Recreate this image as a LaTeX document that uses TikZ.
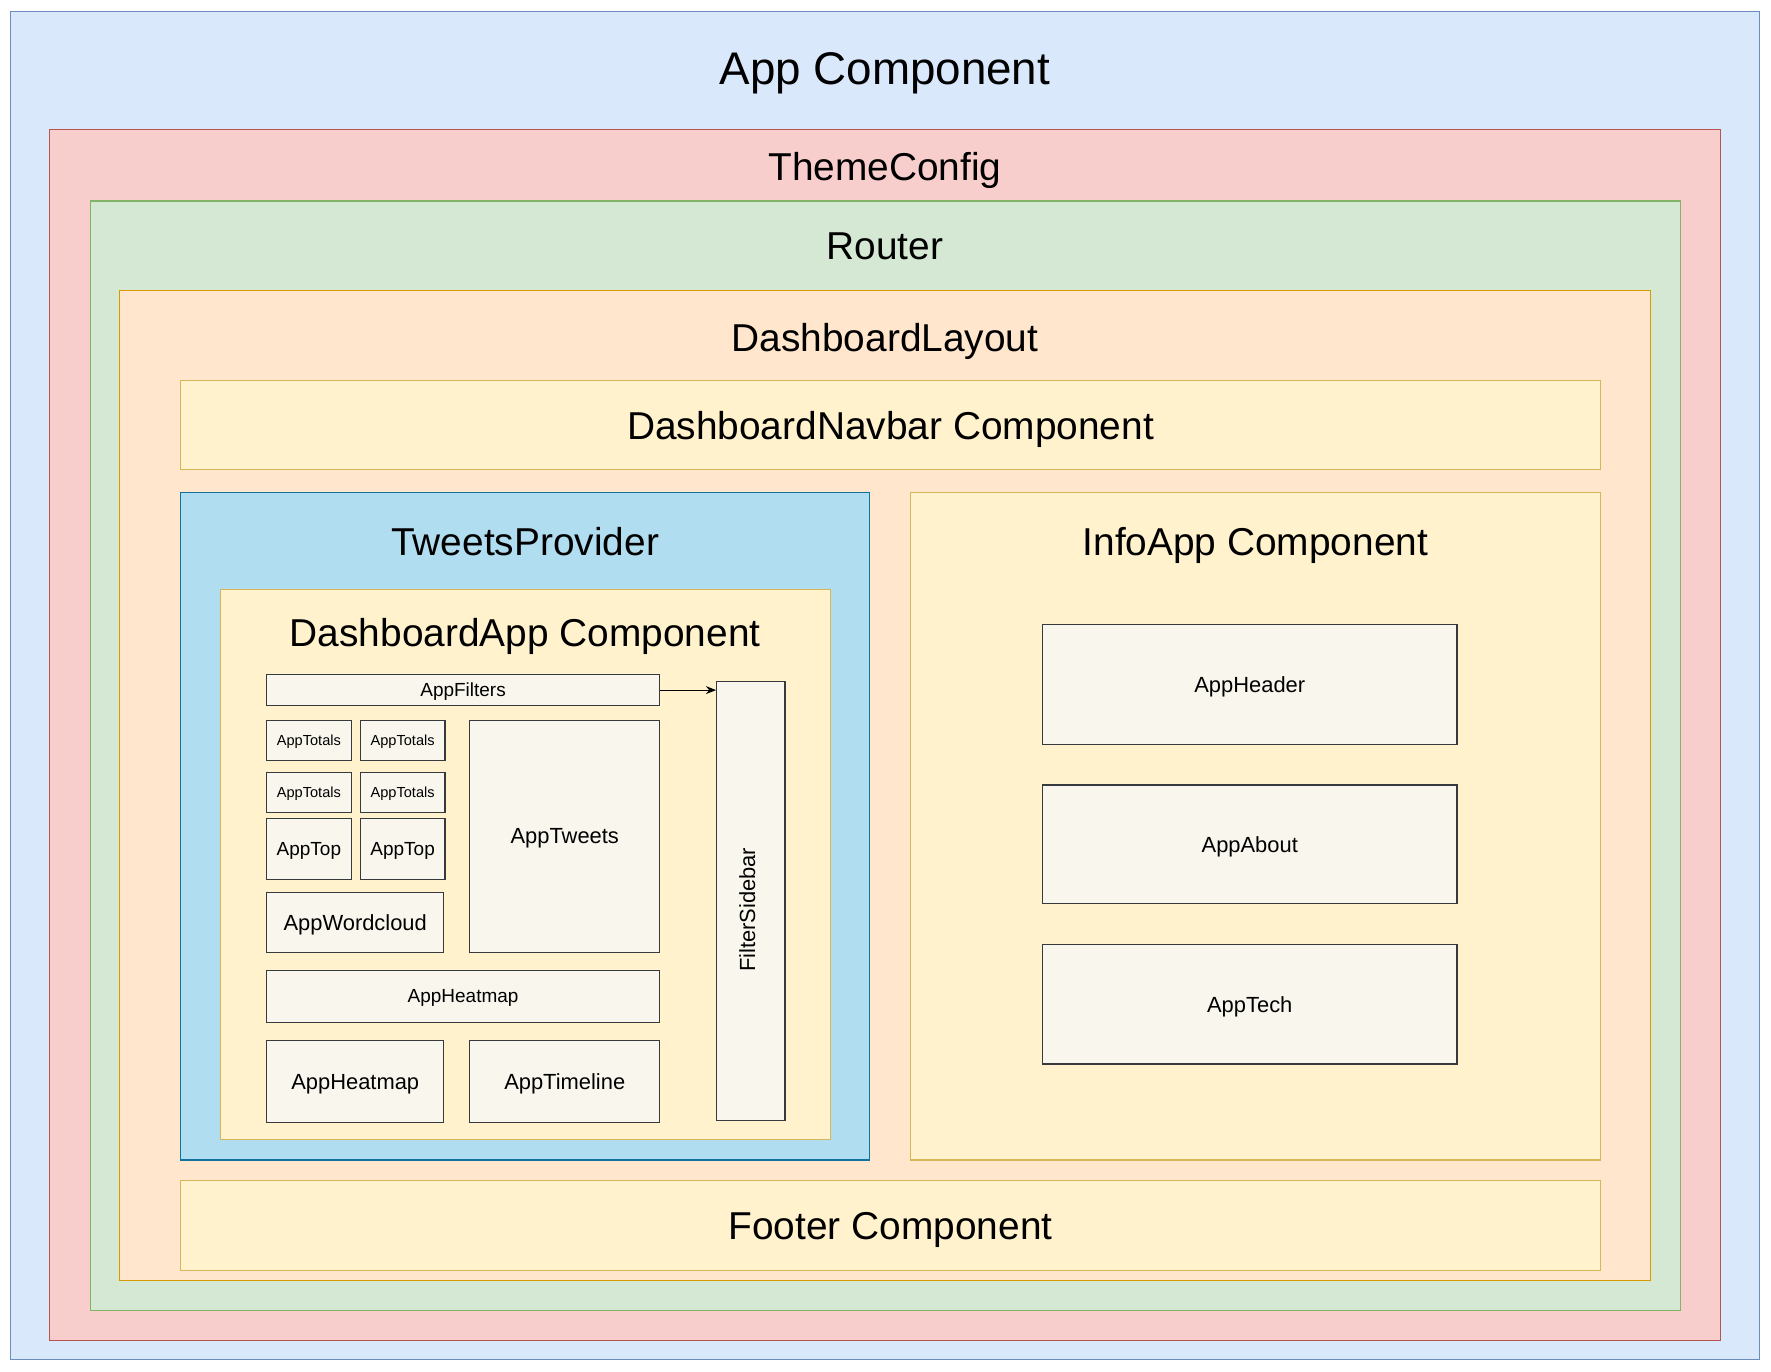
\documentclass[tikz,border=0pt]{standalone}
\usepackage{fontspec}
\setmainfont{Liberation Sans}
\usetikzlibrary{arrows.meta,calc}
\definecolor{blueF}{HTML}{DAE8FC}\definecolor{blueD}{HTML}{6C8EBF}
\definecolor{redF}{HTML}{F8CECC}\definecolor{redD}{HTML}{B85450}
\definecolor{greenF}{HTML}{D5E8D4}\definecolor{greenD}{HTML}{82B366}
\definecolor{orangeF}{HTML}{FFE6CC}\definecolor{orangeD}{HTML}{D79B00}
\definecolor{yellowF}{HTML}{FFF2CC}\definecolor{yellowD}{HTML}{D6B656}
\definecolor{tpF}{HTML}{B1DDF0}\definecolor{tpD}{HTML}{10739E}
\definecolor{leafF}{HTML}{F9F7ED}\definecolor{leafD}{HTML}{36393D}
\tikzset{
  box/.style={rectangle, inner sep=0pt, outer sep=0pt, anchor=north west, line width=1pt, text depth=0pt},
  appbox/.style={box, fill=blueF, draw=blueD},
  themebox/.style={box, fill=redF, draw=redD},
  routerbox/.style={box, fill=greenF, draw=greenD},
  layoutbox/.style={box, fill=orangeF, draw=orangeD},
  ybox/.style={box, fill=yellowF, draw=yellowD},
  tpbox/.style={box, fill=tpF, draw=tpD},
  leaf/.style={box, fill=leafF, draw=leafD},
  bigtxt/.style={font=\fontsize{40.5}{48}\selectfont},
  ttl/.style={font=\fontsize{34.4}{41}\selectfont},
  med/.style={font=\fontsize{19.4}{23}\selectfont},
  sml/.style={font=\fontsize{16.8}{20}\selectfont},
  xsml/.style={font=\fontsize{12.9}{15}\selectfont},
  plain/.style={inner sep=0pt, anchor=center, text depth=0pt},
  conn/.style={line width=1pt, -{Stealth[length=9pt,width=7pt]}}
}
\begin{document}
\begin{tikzpicture}[x=1pt,y=-1pt]
\useasboundingbox (0,0) rectangle (1568,1214);
% containers
\node[appbox, minimum width=1549pt, minimum height=1194pt] (app) at (9,10) {};
\node[plain, bigtxt] (appT) at (783.5,61) {App Component};
\node[themebox, minimum width=1479pt, minimum height=1072pt] (theme) at (44,115) {};
\node[plain, ttl] (themeT) at (783.5,147) {ThemeConfig};
\node[routerbox, minimum width=1408pt, minimum height=982pt] (router) at (80,178) {};
\node[plain, ttl] (routerT) at (783.5,218) {Router};
\node[layoutbox, minimum width=1355pt, minimum height=877pt] (layout) at (106,257) {};
\node[plain, ttl] (layoutT) at (783.5,299) {DashboardLayout};
\node[ybox, ttl, minimum width=1257pt, minimum height=79pt] (navbar) at (160,337) {DashboardNavbar Component};
\node[tpbox, minimum width=610pt, minimum height=591pt] (tweets) at (160,436) {};
\node[plain, ttl] (tweetsT) at (465,479) {TweetsProvider};
\node[ybox, minimum width=540pt, minimum height=487pt] (dash) at (195,522) {};
\node[plain, ttl] (dashT) at (465,560) {DashboardApp Component};
% dashboard leaves
\node[leaf, sml, minimum width=348pt, minimum height=28pt] (filters) at (236,597) {AppFilters};
\node[leaf, minimum width=61pt, minimum height=389pt] (sidebar) at (634,603) {};
\node[plain, med, rotate=90] (sidebarT) at ($(sidebar.center)+(-3,8)$) {FilterSidebar};
\node[leaf, xsml, minimum width=75pt, minimum height=35pt] (tot1) at (236,638) {AppTotals};
\node[leaf, xsml, minimum width=75pt, minimum height=35pt] (tot2) at (319,638) {AppTotals};
\node[leaf, xsml, minimum width=75pt, minimum height=35pt] (tot3) at (236,684) {AppTotals};
\node[leaf, xsml, minimum width=75pt, minimum height=35pt] (tot4) at (319,684) {AppTotals};
\node[leaf, sml, minimum width=75pt, minimum height=54pt] (top1) at (236,725) {AppTop};
\node[leaf, sml, minimum width=75pt, minimum height=54pt] (top2) at (319,725) {AppTop};
\node[leaf, med, minimum width=157pt, minimum height=53pt] (word) at (236,790) {AppWordcloud};
\node[leaf, med, minimum width=168pt, minimum height=205pt] (tw) at (416,638) {AppTweets};
\node[leaf, sml, minimum width=348pt, minimum height=46pt] (heat1) at (236,859) {AppHeatmap};
\node[leaf, med, minimum width=157pt, minimum height=73pt] (heat2) at (236,921) {AppHeatmap};
\node[leaf, med, minimum width=168pt, minimum height=73pt] (timeline) at (416,921) {AppTimeline};
\draw[conn] (filters.east) -- (filters.east -| sidebar.west);
% info
\node[ybox, minimum width=611pt, minimum height=591pt] (info) at (806,436) {};
\node[plain, ttl] (infoT) at (1111.5,479) {InfoApp Component};
\node[leaf, med, minimum width=367pt, minimum height=106pt] (header) at (923,553) {AppHeader};
\node[leaf, med, minimum width=367pt, minimum height=105pt] (about) at (923,695) {AppAbout};
\node[leaf, med, minimum width=367pt, minimum height=106pt] (tech) at (923,836) {AppTech};
% footer
\node[ybox, ttl, minimum width=1257pt, minimum height=80pt] (footer) at (160,1045) {Footer Component};
\end{tikzpicture}
\end{document}
